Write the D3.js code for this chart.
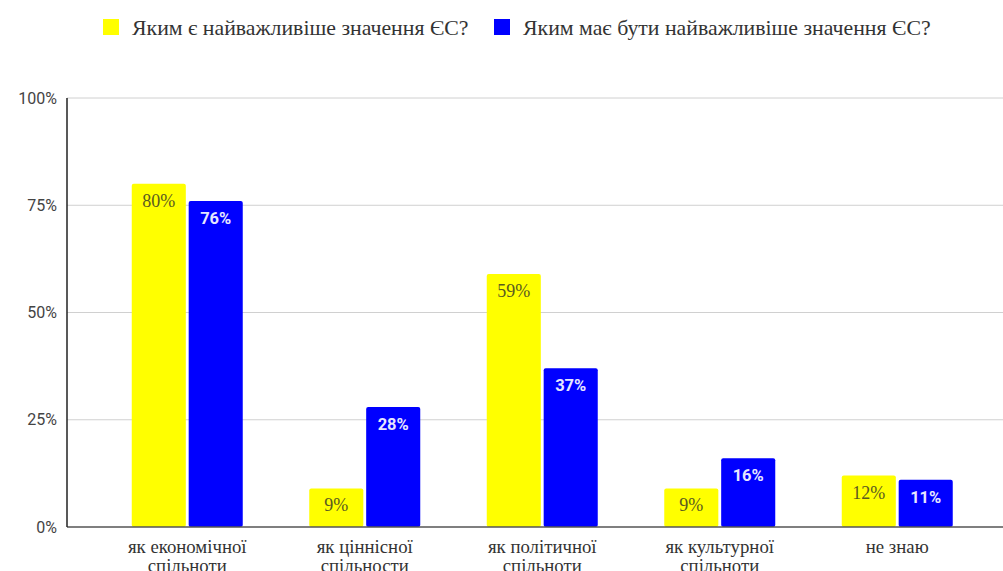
<!DOCTYPE html>
<html><head><meta charset="utf-8">
<script src="https://cdn.jsdelivr.net/npm/d3@7/dist/d3.min.js"></script>
<style>body{margin:0;background:#fff}svg{display:block}</style>
</head><body>
<script>
const categories = [["як економічної","спільноти"],["як ціннісної","спільности"],["як політичної","спільноти"],["як культурної","спільноти"],["не знаю"]];
const seriesNames = ["Яким є найважливіше значення ЄС?","Яким має бути найважливіше значення ЄС?"];
const seriesIs = [80, 9, 59, 9, 12];
const seriesShould = [76, 28, 37, 16, 11];
const yTicks = [0, 25, 50, 75, 100];
const colors = ["#ffff00", "#0000ff"];

const SERIF = "'Liberation Serif', 'Times New Roman', serif";
const W = 1003, H = 571;
const svg = d3.select("body").append("svg").attr("width", W).attr("height", H);
const y = d3.scaleLinear().domain([0, 100]).range([527, 98]);
const x0 = d3.scaleBand().domain(d3.range(categories.length)).range([98.5, 986]).padding(0);
const x1 = d3.scaleBand().domain([0, 1]).range([0, 111]).paddingInner(0.05);
const off = (x0.bandwidth() - 111) / 2;

svg.append("g").selectAll("line").data(yTicks.filter(d => d > 0)).join("line")
  .attr("x1", 67).attr("x2", W).attr("y1", d => y(d)).attr("y2", d => y(d))
  .attr("stroke", "#d0d0d0").attr("stroke-width", 1);
svg.append("g").selectAll("text").data(yTicks).join("text")
  .attr("x", 57).attr("y", d => y(d)).attr("dy", "0.35em").attr("text-anchor", "end")
  .attr("font-family", "Roboto, Arial, sans-serif").attr("font-size", 16).attr("fill", "#444")
  .text(d => d + "%");

const series = [seriesIs, seriesShould];
const groups = svg.append("g").selectAll("g").data(categories).join("g")
  .attr("transform", (d, i) => `translate(${x0(i) + off},0)`);
groups.each(function(cat, i) {
  const g = d3.select(this);
  series.forEach((s, k) => {
    const v = s[i];
    g.append("rect").attr("x", x1(k)).attr("width", x1.bandwidth())
      .attr("y", y(v)).attr("height", y(0) - y(v)).attr("rx", 2).attr("fill", colors[k]);
    g.append("text").attr("x", x1(k) + x1.bandwidth() / 2).attr("y", y(v) + 23)
      .attr("text-anchor", "middle")
      .style("font-family", k === 0 ? SERIF : "Roboto, Arial, sans-serif")
      .attr("font-weight", k === 0 ? "normal" : "bold")
      .attr("font-size", k === 0 ? 18 : 16.5)
      .attr("fill", k === 0 ? "#5a5a20" : "#e6e6ff")
      .text(v + "%");
  });
  const t = g.append("text").attr("text-anchor", "middle")
    .style("font-family", SERIF).attr("font-size", 18.8).attr("fill", "#333");
  cat.forEach((line, j) => {
    t.append("tspan").attr("x", 55.5).attr("y", 553 + j * 19).text(line);
  });
});

svg.append("line").attr("x1", 67).attr("x2", W).attr("y1", y(0)).attr("y2", y(0)).attr("stroke", "#555").attr("stroke-width", 1.5);
svg.append("line").attr("x1", 67).attr("x2", 67).attr("y1", y(100)).attr("y2", y(0)).attr("stroke", "#222").attr("stroke-width", 1.5);

const legX = [103, 494];
seriesNames.forEach((n, k) => {
  svg.append("rect").attr("x", legX[k]).attr("y", 19).attr("width", 16).attr("height", 16).attr("fill", colors[k]);
  svg.append("text").attr("x", legX[k] + 29).attr("y", 27).attr("dy", "0.35em")
    .style("font-family", SERIF).attr("font-size", 21.8).attr("fill", "#333").text(n);
});
</script>
</body></html>
